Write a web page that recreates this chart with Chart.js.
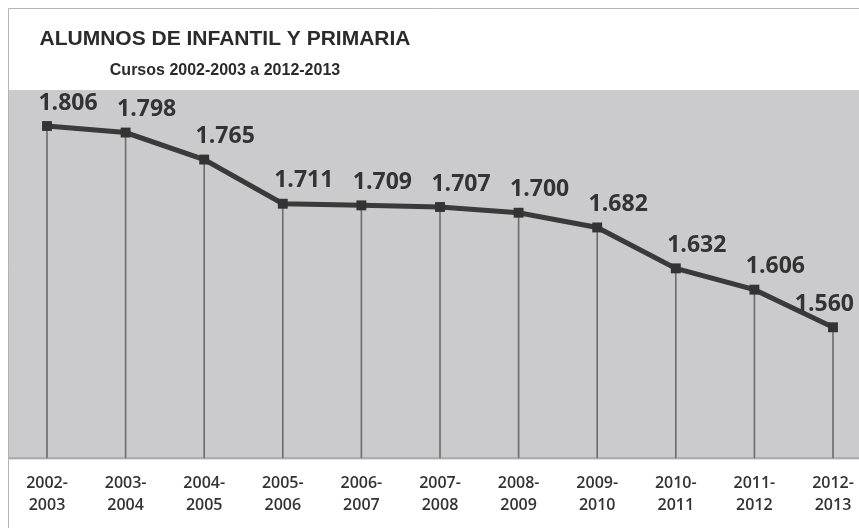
<!DOCTYPE html>
<html>
<head>
<meta charset="utf-8">
<script src="https://cdn.jsdelivr.net/npm/chart.js@4.4.1/dist/chart.umd.min.js"></script>
<style>
  html, body { margin: 0; padding: 0; background: #fff; }
  #wrap { width: 859px; height: 528px; position: relative; }
</style>
</head>
<body>
<div id="wrap"><canvas id="alumnosChart"></canvas></div>
<script>
// cursos (dos lineas por etiqueta)
var cursos = [
  ["2002-", "2003"], ["2003-", "2004"], ["2004-", "2005"], ["2005-", "2006"],
  ["2006-", "2007"], ["2007-", "2008"], ["2008-", "2009"], ["2009-", "2010"],
  ["2010-", "2011"], ["2011-", "2012"], ["2012-", "2013"]
];
// alumnos en miles
var alumnos = [1.806, 1.798, 1.765, 1.711, 1.709, 1.707, 1.700, 1.682, 1.632, 1.606, 1.560];
var etiquetas = ["1.806", "1.798", "1.765", "1.711", "1.709", "1.707", "1.700", "1.682", "1.632", "1.606", "1.560"];
var titulo = "ALUMNOS DE INFANTIL Y PRIMARIA";
var subtitulo = "Cursos 2002-2003 a 2012-2013";

// fondo gris, marco y titulos
var fondoPlugin = {
  id: 'fondo',
  beforeDraw: function (chart) {
    var c = chart.ctx, a = chart.chartArea;
    c.save();
    c.fillStyle = '#cbcbcd';
    c.fillRect(8, a.top, chart.width - 8, a.bottom - a.top + 1);
    c.strokeStyle = '#a9a9ab';
    c.lineWidth = 2;
    c.beginPath();
    c.moveTo(8, a.bottom);
    c.lineTo(chart.width, a.bottom);
    c.stroke();
    c.strokeStyle = '#b4b4b4';
    c.lineWidth = 1;
    c.beginPath();
    c.moveTo(8.5, chart.height);
    c.lineTo(8.5, 8.5);
    c.lineTo(chart.width, 8.5);
    c.stroke();
    c.fillStyle = '#2b2b2b';
    c.textAlign = 'center';
    c.textBaseline = 'alphabetic';
    c.font = 'bold 21px "Liberation Sans", Arial, sans-serif';
    c.fillText(titulo, 225, 45);
    c.font = 'bold 16px "Liberation Sans", Arial, sans-serif';
    c.fillText(subtitulo, 225, 75);
    c.restore();
  },
  afterDatasetsDraw: function (chart) {
    var c = chart.ctx;
    var meta = chart.getDatasetMeta(1);
    c.save();
    c.fillStyle = '#333333';
    c.font = 'bold 23px "Open Sans", sans-serif';
    c.textAlign = 'center';
    c.textBaseline = 'middle';
    meta.data.forEach(function (p, i) {
      var txt = etiquetas[i];
      var w = c.measureText(txt).width;
      var x = p.x + 21;
      if (x + w / 2 > chart.width - 5) x = chart.width - 5 - w / 2;
      c.fillText(txt, x, p.y - 23);
    });
    c.restore();
  }
};

var ctx = document.getElementById("alumnosChart").getContext('2d');
var alumnosChart = new Chart(ctx, {
  type: 'line',
  data: {
    labels: cursos,
    datasets: [{
      type: 'bar',
      data: alumnos,
      base: 1.4,
      backgroundColor: '#6e6e70',
      barThickness: 1,
      clip: { left: 5, right: 5, top: 0, bottom: 0 },
      order: 2
    }, {
      type: 'line',
      data: alumnos,
      borderColor: '#3a3a3a',
      borderWidth: 5,
      pointStyle: 'rect',
      pointRadius: 7,
      pointBackgroundColor: '#333333',
      pointBorderColor: '#333333',
      pointBorderWidth: 0,
      tension: 0,
      clip: false,
      order: 1
    }]
  },
  options: {
    responsive: true,
    maintainAspectRatio: false,
    animation: false,
    layout: { padding: { top: 90, left: 47, right: 26, bottom: 11 } },
    plugins: {
      legend: { display: false },
      tooltip: { enabled: false }
    },
    scales: {
      x: {
        offset: false,
        grid: { display: false, drawTicks: true, tickLength: 14 },
        border: { display: false },
        ticks: {
          color: '#333333',
          font: { family: '"Open Sans", sans-serif', size: 16, weight: '600', lineHeight: 1.4 },
          padding: 0,
          maxRotation: 0,
          autoSkip: false
        }
      },
      y: {
        display: false,
        min: 1.4,
        max: 1.85
      }
    }
  },
  plugins: [fondoPlugin]
});
</script>
</body>
</html>
